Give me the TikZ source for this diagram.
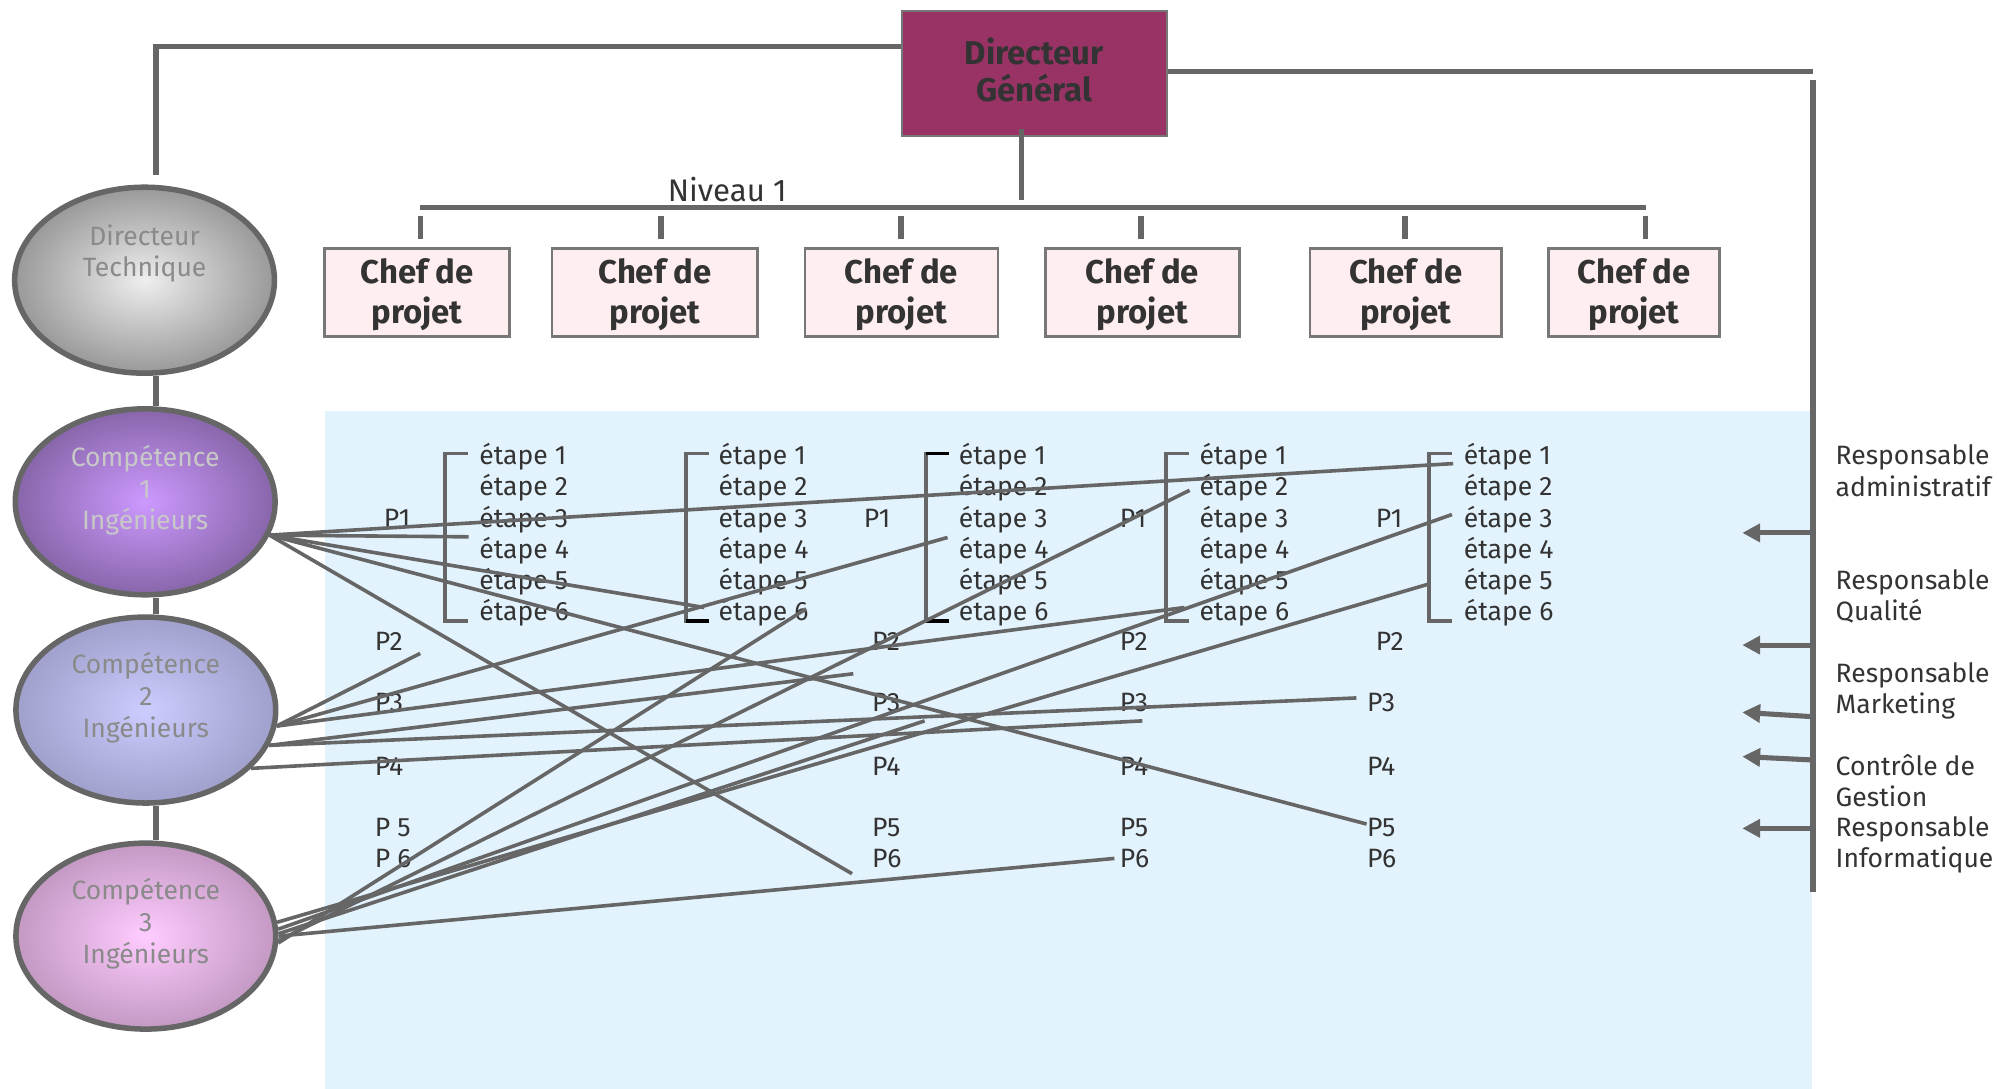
\documentclass[tikz,border=0pt]{standalone}
\usepackage{fontspec}
\setmainfont{Fira Sans}
\usetikzlibrary{shapes.geometric,arrows.meta}
\definecolor{lg}{HTML}{666666}
\definecolor{bgr}{HTML}{777777}
\definecolor{tx}{HTML}{333333}
\definecolor{dgfill}{HTML}{993366}
\definecolor{chfill}{HTML}{FFEEF0}
\definecolor{blbg}{HTML}{E3F3FD}
\definecolor{dtIn}{HTML}{EEEEEE}
\definecolor{dtOut}{HTML}{999999}
\definecolor{aIn}{HTML}{CC99FF}
\definecolor{aOut}{HTML}{8866AA}
\definecolor{bIn}{HTML}{CCCCFF}
\definecolor{bOut}{HTML}{A0A0CC}
\definecolor{cIn}{HTML}{FFCCFF}
\definecolor{cOut}{HTML}{C399C3}
\definecolor{softtx}{HTML}{8A8A8A}
\definecolor{lighttx}{HTML}{C8C8C8}
\begin{document}
\begin{tikzpicture}[x=0.6pt,y=-0.6pt,
  thickline/.style={draw=lg,line width=2.6pt},
  conn/.style={draw=lg,line width=1.7pt},
  brk/.style={draw=lg,line width=1.6pt},
  chef/.style={draw=bgr,line width=1.3pt,fill=chfill,inner sep=0pt,
    minimum height=69*0.6pt},
  cheftext/.style={text=tx,font=\fontsize{15.5}{18.6}\selectfont\bfseries,align=center,inner sep=0pt},
  dgbox/.style={draw=bgr,line width=1pt,fill=dgfill,inner sep=0pt},
  dgtext/.style={text=tx,font=\fontsize{15.5}{17.4}\selectfont\bfseries,align=center,inner sep=0pt},
  comp/.style={ellipse,draw=lg,line width=2.6pt,minimum width=204*0.6pt,
    minimum height=146*0.6pt,inner sep=0pt},
  comptext/.style={font=\fontsize{12.5}{15}\selectfont,align=center,inner sep=0pt},
  etape/.style={anchor=base west,font=\fontsize{12.5}{14.7}\selectfont,text=tx,inner sep=0pt},
  sidearrow/.style={draw=lg,line width=2.4pt,-{Triangle[length=8.4pt,width=8.4pt]}},
]
\useasboundingbox (0,0) rectangle (1568,855);
\fill[blbg] (255,322.5) rectangle (1423,855);

% Directeur General
\node[dgbox,minimum width=208*0.6pt,minimum height=98.5*0.6pt] (dg) at (812,57.75) {};
\node[dgtext] (dgt) at (812,55.2) {Directeur\\Général};

% top connectors
\coordinate (lc) at (122.5,36.6);
\coordinate (dtTop) at (122.5,137.5);
\draw[thickline] (dg.west |- lc) -- (lc) -- (dtTop);
\coordinate (rc) at (1423.5,56.1);
\draw[thickline] (dg.east |- rc) -- (rc);
\coordinate (vTop) at (1423.5,63);
\coordinate (vBot) at (1423.5,700);
\draw[thickline] (vTop) -- (vBot);
\coordinate (dgB) at (802,101);
\coordinate (dgN) at (802,157);
\draw[thickline] (dgB) -- (dgN);
\coordinate (nivL) at (330,163);
\coordinate (nivR) at (1292,163);
\draw[thickline] (nivL) -- (nivR);
\node[anchor=base west,inner sep=0pt,text=tx,font=\fontsize{14.7}{17}\selectfont] (niv) at (524,158) {Niveau 1};

% chef de projet boxes
\foreach \n/\cx/\w/\tkx in {1/327.5/145/330, 2/514.25/161.5/519, 3/707.75/151.5/707.5, 4/897/152/896, 5/1103.75/150.5/1103, 6/1283/134/1292}{
  \node[chef,minimum width=\w*0.6pt] (chef\n) at (\cx,229.5) {};
  \node[cheftext] (chef\n t) at (\cx,231.5) {Chef de\\projet};
  \coordinate (tka\n) at (\tkx,169.5);
  \coordinate (tkb\n) at (\tkx,188);
  \draw[thickline] (tka\n) -- (tkb\n);
}

% ellipses
\coordinate (lx) at (122.5,0);
\node[comp,inner color=dtIn,outer color=dtOut] (dt) at (113.5,220) {};
\node[comp,inner color=aIn,outer color=aOut] (c1) at (114,394) {};
\node[comp,inner color=bIn,outer color=bOut] (c2) at (114.5,557.5) {};
\node[comp,inner color=cIn,outer color=cOut] (c3) at (114.5,735) {};
\draw[thickline] (dt.south -| lx) -- (c1.north -| lx);
\draw[thickline] (c1.south -| lx) -- (c2.north -| lx);
\draw[thickline] (c2.south -| lx) -- (c3.north -| lx);
\node[comptext,text=softtx] (dtt) at (113.5,199) {Directeur\\Technique};
\node[comptext,text=lighttx] (c1t) at (114,385) {Compétence\\1\\Ingénieurs};
\node[comptext,text=softtx] (c2t) at (114.5,548) {Compétence\\2\\Ingénieurs};
\node[comptext,text=softtx] (c3t) at (114.5,725) {Compétence\\3\\Ingénieurs};

% brackets
\foreach \bx in {349.5,538.5,727,915.5,1122}{
  \draw[brk] ({\bx+18},356) -- (\bx,356) -- (\bx,487.5) -- ({\bx+18},487.5);
}
\draw[line width=1.6pt,black] (538.5,487.5) -- (556.5,487.5);
\draw[line width=1.6pt,black] (727,356) -- (745,356);
\draw[line width=1.6pt,black] (727,487.5) -- (745,487.5);

% etapes
\foreach \ex [count=\c] in {376,564,752.5,941.5,1149}{
  \foreach \r/\yb in {1/365,2/389.4,3/413.8,4/438.2,5/462.6,6/487}{
    \node[etape] (e\c-\r) at (\ex,\yb) {étape \r};
  }
}

% P labels
\foreach \nm/\px/\pb/\pt in {a1/301/414/P1, a2/294/511/P2, a3/294/559/P3, a4/294/609/P4, a5/294/657/P 5, a6/294/681.5/P 6,
  b1/678/414/P1, b2/684.5/511/P2, b3/684.5/559/P3, b4/684.5/609/P4, b5/684.5/657/P5, b6/684.5/681.5/P6,
  c1/879/414/P1, c2/879/511/P2, c3/879/559/P3, c4/879/609/P4, c5/879/657/P5, c6/879/681.5/P6,
  d1/1080/414/P1, d2/1080/511/P2, d3/1073/559/P3, d4/1073/609/P4, d5/1073/657/P5, d6/1073/681.5/P6}{
  \node[etape] (p\nm) at (\px,\pb) {\pt};
}

% side labels
\foreach \nm/\sb/\st in {s1/365/Responsable, s2/389.5/administratif, s3/463/Responsable, s4/487.5/Qualité,
  s5/536/Responsable, s6/560.5/Marketing, s7/609/Contrôle de, s8/633.5/Gestion,
  s9/657/Responsable, s10/681.5/Informatique}{
  \node[etape] (\nm) at (1441,\sb) {\st};
}

% side arrows
\coordinate (as1) at (1423,418.4); \coordinate (ae1) at (1368,418.4);
\coordinate (as2) at (1423,506.5); \coordinate (ae2) at (1368,506.5);
\coordinate (as3) at (1423,562.7); \coordinate (ae3) at (1368,559.3);
\coordinate (as4) at (1423,596.7); \coordinate (ae4) at (1368,594);
\coordinate (as5) at (1423,650.4); \coordinate (ae5) at (1368,650.4);
\foreach \i in {1,...,5}{ \draw[sidearrow] (as\i) -- (ae\i); }

% connector end points
\coordinate (t1) at (1141,364);
\coordinate (t2) at (368,421.5);
\coordinate (t3) at (553,477);
\coordinate (t4) at (1073,647);
\coordinate (t5) at (669,686);
\coordinate (t6) at (330,513);
\coordinate (t7) at (744,422);
\coordinate (t10) at (670,529);
\coordinate (t11) at (930,477);
\coordinate (t12) at (1065,548);
\coordinate (t13) at (897,566);
\coordinate (ta) at (875,674);
\coordinate (tb) at (1122,458.5);
\coordinate (tc) at (1140,404);
\coordinate (td) at (934,385);
\coordinate (te) at (633,478);
\coordinate (tf) at (726,566);

% connectors from Competence 1
\foreach \t in {t1,t2,t3,t4,t5}{ \draw[conn] (c1.-15) -- (\t); }
% from Competence 2
\foreach \t in {t6,t7,t11}{ \draw[conn] (c2.-7.5) -- (\t); }
\foreach \t in {t10,t12}{ \draw[conn] (c2.-16) -- (\t); }
\draw[conn] (c2.-29) -- (t13);
% from Competence 3
\draw[conn] (c3.6) -- (tb);
\draw[conn] (c3.3) -- (tc);
\draw[conn] (c3.1) -- (tf);
\draw[conn] (c3.0) -- (ta);
\draw[conn] (c3.-2) -- (td);
\draw[conn] (c3.-3) -- (te);
\end{tikzpicture}
\end{document}
